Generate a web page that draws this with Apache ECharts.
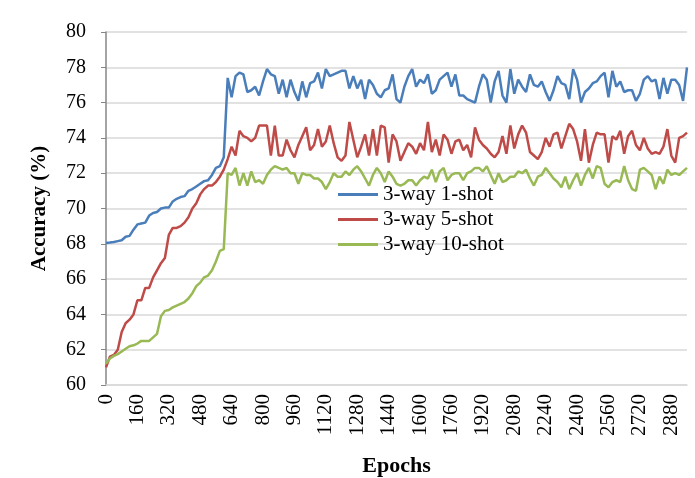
<!DOCTYPE html>
<html>
<head>
<meta charset="utf-8">
<script src="https://cdn.jsdelivr.net/npm/echarts@6/dist/echarts.min.js"></script>
<style>
  html, body { margin: 0; padding: 0; background: #fff; }
  #echart { width: 695px; height: 478px; }
</style>
</head>
<body>
<div id="echart"></div>
<script>
// epochs, one point every 20
var epochs = [];
for (var e = 0; e <= 2960; e += 20) epochs.push(e);

var oneShot = [
  68.05, 68.07, 68.1, 68.15, 68.2, 68.4, 68.45, 68.8, 69.1, 69.15, 69.2, 69.6, 69.75, 69.8, 70.0, 70.05,
  70.05, 70.4, 70.55, 70.65, 70.7, 71.0, 71.1, 71.25, 71.4, 71.55, 71.6, 71.9, 72.3, 72.4, 72.9,
  77.4, 76.3, 77.5, 77.7, 77.6, 76.6, 76.7, 76.9, 76.4, 77.2, 77.9, 77.6, 77.5, 76.5, 77.3, 76.3, 77.3,
  76.6, 76.1, 77.2, 76.3, 77.1, 77.2, 77.7, 76.8, 77.9, 77.5, 77.6, 77.7, 77.8, 77.8, 76.8, 77.5, 76.8, 77.3, 76.2, 77.3,
  77.0, 76.5, 76.3, 76.7, 76.8, 77.6, 76.2, 76.0, 76.9, 77.5, 77.9, 76.9, 77.3, 77.1, 77.6, 76.5, 76.7, 77.3, 77.5,
  77.7, 76.9, 77.6, 76.4, 76.4, 76.2, 76.1, 76.0, 76.9, 77.6, 77.3, 76.0, 77.2, 77.8, 76.4, 76.0, 77.9, 76.5, 77.3,
  76.9, 76.6, 77.6, 77.0, 76.9, 77.2, 76.6, 76.1, 76.7, 77.5, 77.1, 77.0, 76.2, 77.9, 77.3, 76.0, 76.6, 76.8, 77.1,
  77.2, 77.5, 77.7, 76.3, 77.8, 76.9, 77.2, 76.6, 76.7, 76.7, 76.1, 76.5, 77.3, 77.5, 77.2, 77.3, 76.2, 77.4,
  76.5, 77.3, 77.3, 77.0, 76.1, 78.0
];

var fiveShot = [
  61.0, 61.6, 61.7, 62.0, 63.0, 63.5, 63.7, 64.0, 64.8, 64.8, 65.5, 65.5, 66.1, 66.5, 66.9, 67.2,
  68.5, 68.9, 68.9, 69.0, 69.2, 69.5, 70.0, 70.3, 70.8, 71.1, 71.3, 71.3, 71.5, 71.8, 72.2,
  72.8, 73.5, 73.0, 74.4, 74.1, 74.0, 73.8, 74.0, 74.7, 74.7, 74.7, 73.0, 74.7, 73.0, 73.0, 73.9,
  73.3, 72.9, 73.6, 74.1, 74.6, 73.3, 73.6, 74.5, 73.5, 73.8, 74.7, 73.7, 72.9, 72.7, 73.0, 74.9, 73.9, 72.9, 73.5, 74.2, 73.0,
  74.5, 73.0, 74.7, 74.6, 72.6, 74.2, 73.8, 72.7, 73.2, 73.7, 73.5, 73.1, 73.7, 73.3, 74.9, 73.2, 73.9, 73.0, 74.2,
  73.9, 73.1, 73.8, 73.9, 73.3, 73.6, 72.9, 74.6, 73.9, 73.6, 73.4, 73.1, 72.9, 73.2, 74.1, 73.1, 74.7, 73.4, 74.2,
  74.7, 74.3, 73.2, 73.0, 72.8, 73.2, 74.0, 73.5, 74.2, 74.3, 73.4, 74.1, 74.8, 74.5, 73.8, 72.7, 74.5, 72.6, 73.6,
  74.3, 74.2, 74.2, 72.6, 74.1, 73.9, 74.4, 73.1, 74.1, 74.4, 73.6, 73.3, 74.0, 73.4, 73.1, 73.2, 73.1, 73.5,
  74.5, 73.0, 72.6, 74.0, 74.1, 74.3
];

var tenShot = [
  61.2, 61.5, 61.65, 61.75, 61.9, 62.05, 62.2, 62.25, 62.35, 62.5, 62.5, 62.5, 62.7, 62.9, 63.9, 64.2,
  64.25, 64.4, 64.5, 64.6, 64.7, 64.9, 65.2, 65.6, 65.8, 66.1, 66.2, 66.5, 67.0, 67.6, 67.7,
  72.0, 71.9, 72.3, 71.3, 72.0, 71.3, 72.1, 71.5, 71.6, 71.4, 71.9, 72.2, 72.4, 72.3, 72.2, 72.3,
  72.0, 72.0, 71.4, 72.0, 71.9, 71.9, 71.7, 71.7, 71.5, 71.1, 71.5, 72.0, 71.8, 71.8, 72.1, 71.9, 72.2, 72.4, 72.1, 71.7, 71.3,
  71.9, 72.3, 72.0, 71.5, 72.1, 71.8, 71.4, 71.3, 71.4, 71.6, 71.6, 71.3, 71.6, 71.8, 71.7, 72.2, 71.5, 72.1, 72.3,
  71.6, 71.9, 72.0, 72.0, 71.6, 72.0, 72.1, 72.3, 72.3, 72.1, 72.4, 71.9, 71.4, 72.0, 71.5, 71.6, 71.8, 71.8, 72.1,
  72.0, 72.2, 71.7, 71.3, 71.8, 71.9, 72.3, 72.0, 71.7, 71.5, 71.2, 71.8, 71.1, 71.6, 72.0, 71.3, 71.9, 72.3, 71.7,
  72.4, 72.3, 71.4, 71.2, 71.5, 71.6, 71.5, 72.4, 71.6, 71.1, 71.0, 72.2, 72.3, 72.1, 71.9, 71.1, 71.8, 71.4,
  72.2, 71.9, 72.0, 71.9, 72.1, 72.3
];

var seriesNames = ['3-way 1-shot', '3-way 5-shot', '3-way 10-shot'];
var colors = ['#4a7ebb', '#be4b48', '#98b954'];

var myChart = echarts.init(document.getElementById('echart'));
var serif = '"Liberation Serif", "Times New Roman", serif';

var option = {
    animation: false,
    color: colors,
    textStyle: { fontFamily: serif },
    grid: { left: 106, right: 8, top: 32, bottom: 93, outerBoundsMode: 'none' },
    legend: {
        orient: 'vertical',
        left: 333,
        top: 179,
        icon: 'rect',
        itemWidth: 40,
        itemHeight: 3,
        itemGap: 4,
        textStyle: { fontFamily: serif, fontSize: 21, color: '#000' },
        data: seriesNames
    },
    xAxis: {
        type: 'category',
        boundaryGap: false,
        data: epochs,
        name: 'Epochs',
        nameLocation: 'middle',
        nameGap: 70,
        nameTextStyle: { fontFamily: serif, fontSize: 22, fontWeight: 'bold', color: '#000' },
        axisLine: { lineStyle: { color: '#d9d9d9', width: 1.5 } },
        axisTick: { show: false },
        axisLabel: {
            interval: 7,
            rotate: 90,
            margin: 9,
            fontFamily: serif,
            fontSize: 21,
            color: '#000'
        },
        splitLine: { show: false }
    },
    yAxis: {
        type: 'value',
        min: 60,
        max: 80,
        interval: 2,
        name: 'Accuracy (%)',
        nameLocation: 'middle',
        nameGap: 56,
        nameTextStyle: { fontFamily: serif, fontSize: 21, fontWeight: 'bold', color: '#000' },
        axisLine: { show: true, lineStyle: { color: '#868686', width: 1.5 } },
        axisTick: { show: true, length: 5, lineStyle: { color: '#868686' } },
        axisLabel: { margin: 20, fontFamily: serif, fontSize: 20, color: '#000' },
        splitLine: { lineStyle: { color: '#d9d9d9', width: 1.5 } }
    },
    series: [
        { name: seriesNames[0], type: 'line', data: oneShot, symbol: 'none', lineStyle: { width: 2.5 } },
        { name: seriesNames[1], type: 'line', data: fiveShot, symbol: 'none', lineStyle: { width: 2.5 } },
        { name: seriesNames[2], type: 'line', data: tenShot, symbol: 'none', lineStyle: { width: 2.5 } }
    ]
};
myChart.setOption(option);
</script>
</body>
</html>
